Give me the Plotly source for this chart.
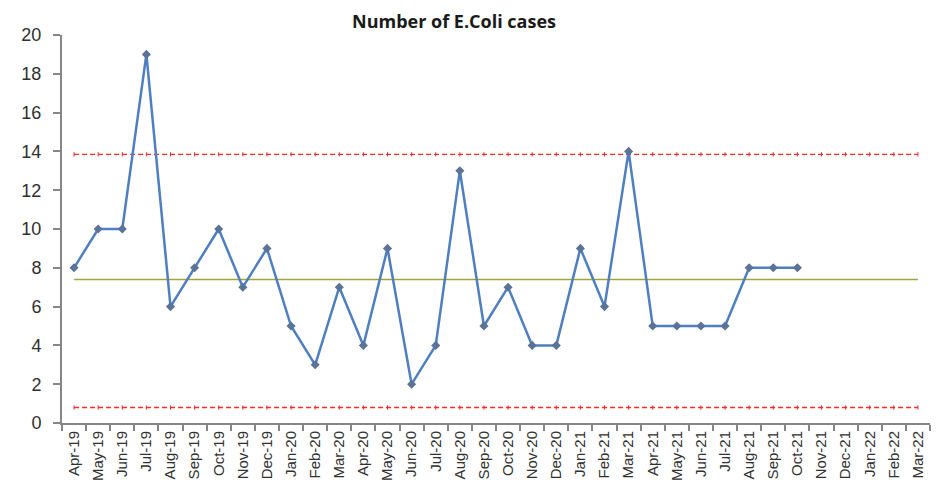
import plotly.graph_objects as go

months = ["Apr-19", "May-19", "Jun-19", "Jul-19", "Aug-19", "Sep-19", "Oct-19", "Nov-19", "Dec-19",
          "Jan-20", "Feb-20", "Mar-20", "Apr-20", "May-20", "Jun-20", "Jul-20", "Aug-20", "Sep-20",
          "Oct-20", "Nov-20", "Dec-20", "Jan-21", "Feb-21", "Mar-21", "Apr-21", "May-21", "Jun-21",
          "Jul-21", "Aug-21", "Sep-21", "Oct-21", "Nov-21", "Dec-21", "Jan-22", "Feb-22", "Mar-22"]
cases = [8, 10, 10, 19, 6, 8, 10, 7, 9,
         5, 3, 7, 4, 9, 2, 4, 13, 5,
         7, 4, 4, 9, 6, 14, 5, 5, 5,
         5, 8, 8, 8]
mean_value = 7.4
ucl_value = 13.85
lcl_value = 0.8

fig = go.Figure()
for limit in (ucl_value, lcl_value):
    fig.add_trace(go.Scatter(x=months, y=[limit] * len(months), mode="lines+markers",
                             line=dict(color="#ff2a2a", width=1.3, dash="5px,3px"),
                             marker=dict(size=3, color="#e03030", symbol="line-ns-open"),
                             hoverinfo="skip", showlegend=False))
fig.add_trace(go.Scatter(x=months, y=[mean_value] * len(months), mode="lines",
                         line=dict(color="#a3a33a", width=1.5),
                         hoverinfo="skip", showlegend=False))
fig.add_trace(go.Scatter(x=months[:len(cases)], y=cases, mode="lines+markers",
                         line=dict(color="#4f7fc0", width=2.5),
                         marker=dict(size=7, color="#5a7396", symbol="diamond"),
                         showlegend=False))

fig.update_layout(
    width=933, height=485,
    margin=dict(l=54, r=11, t=27, b=70),
    paper_bgcolor="white", plot_bgcolor="white",
    font=dict(family="Liberation Sans, Arial, sans-serif", color="#404040"),
    title=dict(text="<b>Number of E.Coli cases</b>", x=(454 - 62) / 868, xref="paper",
               xanchor="center", y=1 - 14 / 485, yanchor="middle",
               font=dict(size=18, color="#1a1a1a", family="Open Sans, Liberation Sans, sans-serif")),
)
fig.update_xaxes(type="category", categoryorder="array", categoryarray=months,
                 range=[-0.5, len(months) - 0.5], tickangle=-90, tickson="boundaries",
                 ticks="outside", ticklen=6, tickcolor="#868686", tickwidth=1.5,
                 showline=True, linecolor="#868686", linewidth=2, showgrid=False,
                 tickfont=dict(size=15, color="#303030"), automargin=False)
fig.update_yaxes(range=[0, 20], dtick=2, ticks="outside", ticklen=7, tickcolor="#868686",
                 tickwidth=1.5, showline=True, linecolor="#868686", linewidth=2,
                 showgrid=False, zeroline=False, ticklabelstandoff=8,
                 tickfont=dict(size=18, color="#303030"), automargin=False)

fig.write_html("out.html")
